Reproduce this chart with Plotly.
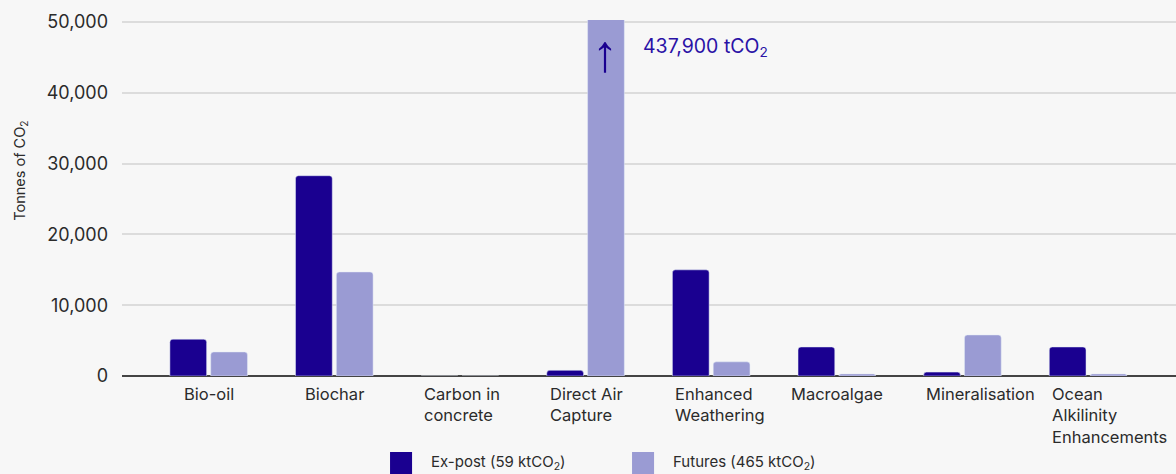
import plotly.graph_objects as go

# Carbon removal volumes by pathway (tonnes of CO2)
categories = [
    "Bio-oil", "Biochar", "Carbon in concrete", "Direct Air Capture",
    "Enhanced Weathering", "Macroalgae", "Mineralisation",
    "Ocean Alkilinity Enhancements",
]
category_labels = [
    "Bio-oil", "Biochar", "Carbon in<br>concrete", "Direct Air<br>Capture",
    "Enhanced<br>Weathering", "Macroalgae", "Mineralisation",
    "Ocean<br>Alkilinity<br>Enhancements",
]
ex_post = [5200, 28300, 0, 800, 15000, 4100, 550, 4100]
futures = [3400, 14700, 0, 437900, 2000, 300, 5800, 300]
y_ticks = [0, 10000, 20000, 30000, 40000, 50000]
series_names = ["Ex-post (59 ktCO<sub>2</sub>)", "Futures (465 ktCO<sub>2</sub>)"]

EX_POST_COLOR = "#1a0090"
FUTURES_COLOR = "#9a9bd3"
TEXT_COLOR = "#2b2b2b"
FONT = "Inter, Roboto, sans-serif"

fig = go.Figure()
for name, values, color in zip(series_names, [ex_post, futures],
                               [EX_POST_COLOR, FUTURES_COLOR]):
    fig.add_trace(go.Bar(
        x=categories, y=values, name=name, showlegend=False,
        marker=dict(color=color, cornerradius=3),
    ))

# Category labels: short ones centred, long / wrapped ones start at the
# left edge of the group
for cat, lab in zip(categories, category_labels):
    long_label = "<br>" in lab or len(lab) > 12
    fig.add_annotation(
        x=cat, y=0, xref="x", yref="y", text=lab, showarrow=False,
        xanchor="left" if long_label else "center",
        xshift=-38 if long_label else 0,
        yanchor="top", align="left", yshift=-6,
        font=dict(family=FONT, size=16.5, color=TEXT_COLOR),
    )

# Off-scale value for Direct Air Capture futures
dac = categories.index("Direct Air Capture")
fig.add_annotation(
    x=dac, y=1, xref="x", yref="paper", text="↑", showarrow=False,
    xanchor="center", yanchor="top", xshift=19, yshift=-2,
    font=dict(family="Liberation Sans", size=52, color=EX_POST_COLOR),
)
fig.add_annotation(
    x=dac, y=1, xref="x", yref="paper",
    text=f"{futures[dac]:,} tCO<sub>2</sub>", showarrow=False,
    xanchor="left", yanchor="top", xshift=55, yshift=-12,
    font=dict(family=FONT, size=19.5, color="#2a12a6"),
)

# Y-axis title
fig.add_annotation(
    x=-0.096, y=0.576, xref="paper", yref="paper",
    text="Tonnes of CO<sub>2</sub>", showarrow=False, textangle=-90,
    xanchor="center", yanchor="middle",
    font=dict(family=FONT, size=14.5, color=TEXT_COLOR),
)

# Legend: swatches and labels along the bottom edge
legend_items = [
    (0.2543, EX_POST_COLOR, series_names[0]),
    (0.4839, FUTURES_COLOR, series_names[1]),
]
for x0, color, name in legend_items:
    fig.add_shape(
        type="rect", xref="paper", yref="paper",
        x0=x0, x1=x0 + 0.0209, y0=-0.2135, y1=-0.285,
        fillcolor=color, line=dict(width=0),
    )
    fig.add_annotation(
        x=x0 + 0.037, y=-0.244, xref="paper", yref="paper", text=name,
        showarrow=False, xanchor="left", yanchor="middle",
        font=dict(family=FONT, size=15, color=TEXT_COLOR),
    )

fig.update_layout(
    width=1176, height=474,
    margin=dict(l=122, r=0, t=20, b=98, autoexpand=False),
    paper_bgcolor="#f7f7f7", plot_bgcolor="#f7f7f7",
    barmode="group", bargap=0.35, bargroupgap=0.1,
    font=dict(family=FONT, size=16, color=TEXT_COLOR),
    showlegend=False,
)
fig.update_xaxes(
    range=[-0.69, 7.70], showticklabels=False, showgrid=False,
    zeroline=False, showline=False, ticks="",
)
fig.update_yaxes(
    range=[0, 50300], tickvals=y_ticks, tickformat=",",
    showgrid=True, gridcolor="#dcdcdc", gridwidth=1.5,
    zeroline=True, zerolinecolor="#444444", zerolinewidth=1.5,
    ticks="", ticklabelstandoff=13,
    tickfont=dict(family=FONT, size=18, color=TEXT_COLOR),
)

fig.write_html("out.html")
